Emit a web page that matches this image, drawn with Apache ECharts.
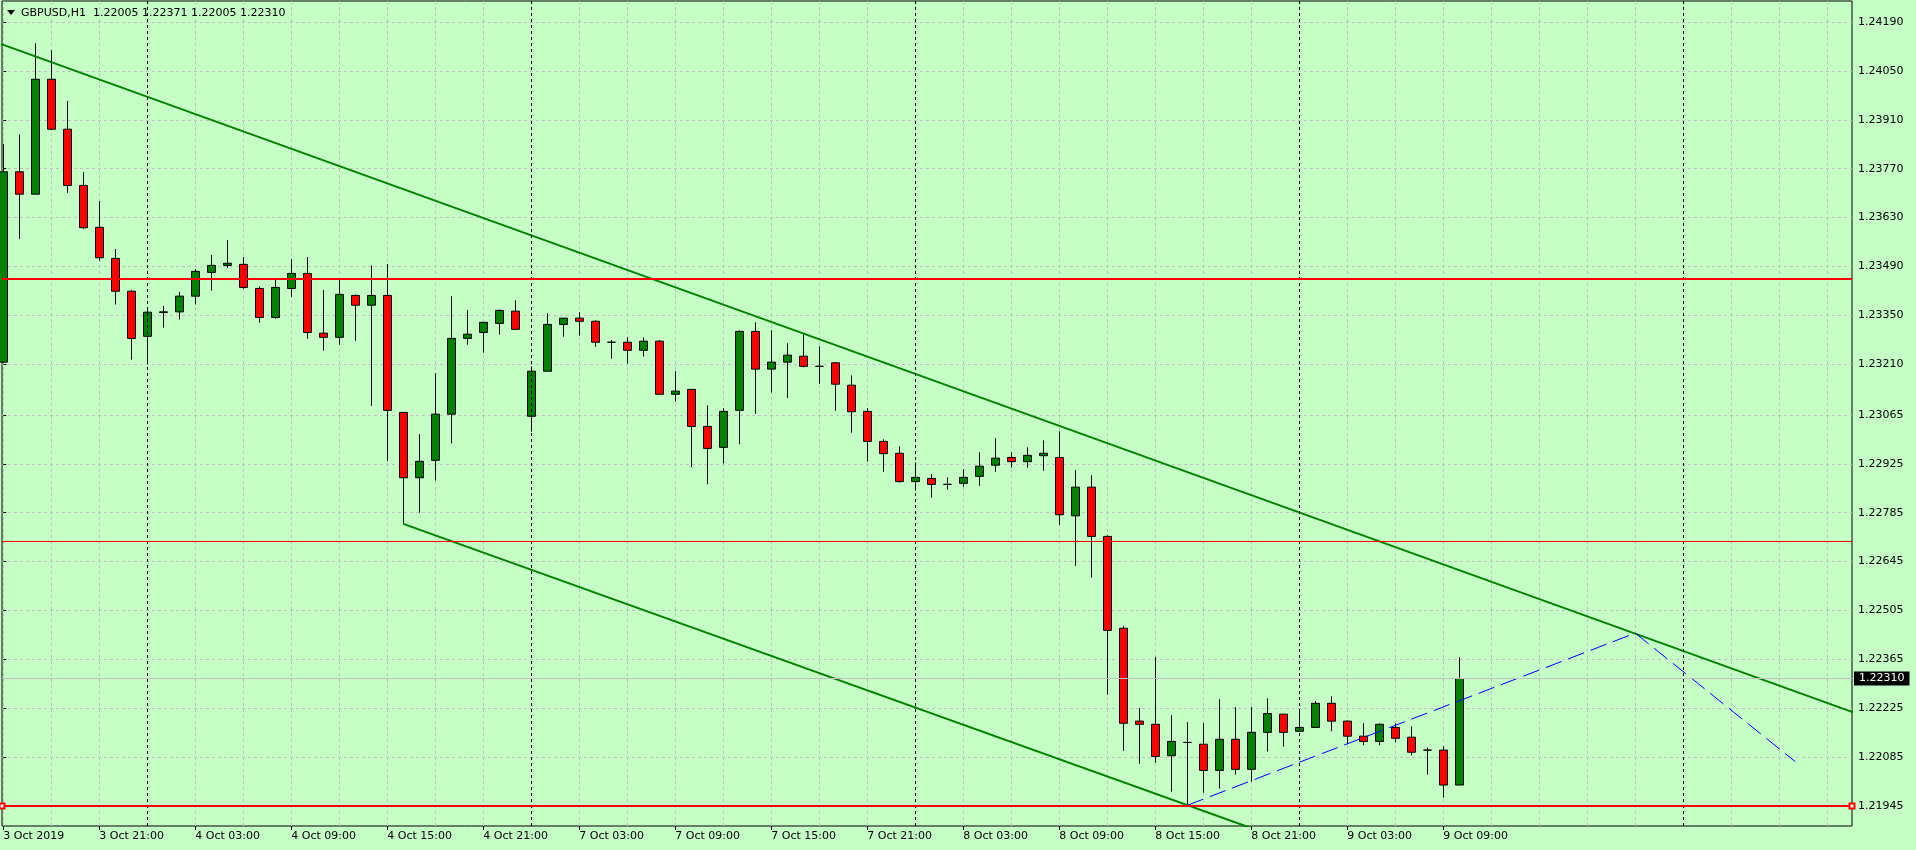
<!DOCTYPE html>
<html><head><meta charset="utf-8">
<script src="https://cdn.jsdelivr.net/npm/echarts@6/dist/echarts.min.js"></script>
<style>html,body{margin:0;padding:0;background:#C5FFC5;}#chart{width:1916px;height:850px;}</style>
</head><body><div id="chart"></div>
<script>
const symbolTitle = 'GBPUSD,H1';
const titleQuote = ['1.22005', '1.22371', '1.22005', '1.22310'];

const opens = [1.23216,1.23761,1.23697,1.24026,1.23883,1.23722,1.23602,1.23513,1.23419,1.23290,
1.23358,1.23360,1.23405,1.23473,1.23493,1.23496,1.23427,1.23344,1.23427,1.23470,
1.23299,1.23287,1.23407,1.23379,1.23407,1.23072,1.22885,1.22935,1.23067,1.23284,
1.23301,1.23327,1.23362,1.23061,1.23190,1.23324,1.23342,1.23333,1.23273,1.23273,
1.23250,1.23276,1.23124,1.23138,1.23032,1.22972,1.23078,1.23304,1.23196,1.23216,
1.23233,1.23204,1.23214,1.23150,1.23075,1.22989,1.22955,1.22874,1.22883,1.22866,
1.22869,1.22889,1.22921,1.22943,1.22931,1.22948,1.22943,1.22776,1.22858,1.22717,
1.22454,1.22188,1.22179,1.22089,1.22127,1.22122,1.22047,1.22136,1.22050,1.22156,
1.22208,1.22159,1.22170,1.22239,1.22188,1.22145,1.22130,1.22170,1.22142,1.22105,
1.22105,1.22005];
const closes = [1.23761,1.23697,1.24026,1.23883,1.23722,1.23601,1.23515,1.23419,1.23284,1.23359,
1.23360,1.23405,1.23476,1.23493,1.23499,1.23430,1.23344,1.23430,1.23470,1.23301,
1.23287,1.23410,1.23379,1.23407,1.23078,1.22885,1.22932,1.23067,1.23284,1.23296,
1.23330,1.23364,1.23310,1.23190,1.23324,1.23342,1.23333,1.23273,1.23273,1.23250,
1.23276,1.23124,1.23133,1.23032,1.22969,1.23075,1.23304,1.23196,1.23216,1.23236,
1.23204,1.23204,1.23153,1.23074,1.22989,1.22954,1.22874,1.22886,1.22866,1.22866,
1.22886,1.22918,1.22941,1.22931,1.22949,1.22955,1.22779,1.22858,1.22717,1.22448,
1.22182,1.22179,1.22087,1.22130,1.22127,1.22047,1.22136,1.22050,1.22156,1.22210,
1.22156,1.22170,1.22239,1.22188,1.22145,1.22130,1.22179,1.22139,1.22099,1.22105,
1.22005,1.22310];
const lows = [1.23214,1.23569,1.23697,1.23881,1.23701,1.23597,1.23507,1.23381,1.23223,1.23210,
1.23315,1.23338,1.23381,1.23421,1.23486,1.23426,1.23329,1.23340,1.23403,1.23283,
1.23249,1.23266,1.23277,1.23091,1.22933,1.22753,1.22785,1.22877,1.22983,1.23266,
1.23243,1.23295,1.23310,1.23017,1.23190,1.23289,1.23292,1.23260,1.23226,1.23212,
1.23232,1.23124,1.23103,1.22915,1.22866,1.22926,1.22981,1.23068,1.23129,1.23113,
1.23201,1.23154,1.23077,1.23014,1.22931,1.22902,1.22871,1.22848,1.22828,1.22851,
1.22859,1.22862,1.22902,1.22914,1.22914,1.22905,1.22750,1.22633,1.22599,1.22264,
1.22103,1.22066,1.22069,1.21986,1.21947,1.21983,1.21995,1.22035,1.22015,1.22101,
1.22115,1.22159,1.22170,1.22159,1.22122,1.22119,1.22119,1.22127,1.22090,1.22035,
1.21969,1.22005];
const highs = [1.23841,1.23868,1.24129,1.24109,1.23964,1.23760,1.23677,1.23540,1.23423,1.23373,
1.23377,1.23417,1.23482,1.23523,1.23566,1.23517,1.23433,1.23453,1.23511,1.23517,
1.23423,1.23453,1.23410,1.23493,1.23497,1.23072,1.23010,1.23184,1.23405,1.23365,
1.23330,1.23367,1.23393,1.23204,1.23356,1.23342,1.23359,1.23336,1.23279,1.23287,
1.23287,1.23279,1.23190,1.23138,1.23092,1.23084,1.23307,1.23330,1.23307,1.23270,
1.23296,1.23261,1.23216,1.23178,1.23084,1.22995,1.22975,1.22929,1.22895,1.22886,
1.22909,1.22958,1.22998,1.22958,1.22972,1.22992,1.23018,1.22907,1.22892,1.22720,
1.22460,1.22225,1.22372,1.22205,1.22185,1.22182,1.22251,1.22228,1.22228,1.22253,
1.22208,1.22219,1.22245,1.22259,1.22190,1.22182,1.22182,1.22182,1.22173,1.22113,
1.22116,1.22371];

const xLabelIndex = [0,6,12,18,24,30,36,42,48,54,60,66,72,78,84,90];
const xLabels = ['3 Oct 2019','3 Oct 21:00','4 Oct 03:00','4 Oct 09:00','4 Oct 15:00','4 Oct 21:00',
'7 Oct 03:00','7 Oct 09:00','7 Oct 15:00','7 Oct 21:00','8 Oct 03:00','8 Oct 09:00','8 Oct 15:00',
'8 Oct 21:00','9 Oct 03:00','9 Oct 09:00'];
const xGridIndex = [0,3,6,9,12,15,18,21,24,27,30,33,36,39,42,45,48,51,54,57,60,63,66,69,72,75,78,81,84,87,90,93,96,99,102,105,108,111,114];
const daySeparators = [9,33,57,81,105];
const yTickLabels = ['1.21945','1.22085','1.22225','1.22365','1.22505','1.22645','1.22785','1.22925',
'1.23065','1.23210','1.23350','1.23490','1.23630','1.23770','1.23910','1.24050','1.24190'];

const upperTrend = [[-0.5, 1.24133], [116, 1.22207]];
const lowerTrend = [[25, 1.22753], [82, 1.21816]];
const blueDashed = [[74, 1.21947], [102, 1.22440], [112, 1.22072]];
const resistanceLevel = 1.23455;
const thinLevel = 1.22703;
const supportLevel = 1.21945;
const bidLevel = 1.22310;

const yTickValues = yTickLabels.map(Number);
const candleData = opens.map((o, i) => [i, o, closes[i], lows[i], highs[i]]);
const FONT = 'DejaVu Sans';
const BG = '#C5FFC5';

const chart = echarts.init(document.getElementById('chart'), null, {renderer: 'canvas'});
chart.setOption({
  animation: false,
  backgroundColor: BG,
  textStyle: {fontFamily: FONT},
  title: {
    text: symbolTitle + '  ' + titleQuote.join(' '),
    left: 21, top: 6, padding: 0,
    textStyle: {fontFamily: FONT, fontSize: 11, fontWeight: 'normal', color: '#000', lineHeight: 14}
  },
  graphic: [{type: 'polygon', shape: {points: [[7, 10], [15, 10], [11, 15]]}, style: {fill: '#000'}, silent: true}],
  grid: {left: 2, right: 64, top: 1, bottom: 24, show: true, borderColor: '#000', borderWidth: 1, backgroundColor: 'transparent'},
  xAxis: [{
    type: 'value', min: -0.08125, max: 115.544,
    axisLine: {show: false},
    axisLabel: {show: false},
    axisTick: {show: false, customValues: xGridIndex},
    splitLine: {show: true, lineStyle: {color: '#C0C0C0', width: 1, type: [3, 3]}}
  }, {
    type: 'value', min: -0.08125, max: 115.544, position: 'bottom',
    axisLine: {show: false},
    axisTick: {show: true, length: 4, customValues: xLabelIndex, lineStyle: {color: '#000'}},
    axisLabel: {customValues: xLabelIndex, align: 'left', margin: 5, fontSize: 11, color: '#000', fontFamily: FONT,
      formatter: v => xLabels[xLabelIndex.indexOf(Math.round(v))] || ''},
    splitLine: {show: false}
  }],
  yAxis: {
    type: 'value', position: 'right', min: 1.2188773, max: 1.2425013, scale: true,
    axisLine: {show: false},
    axisTick: {show: true, length: 3, customValues: yTickValues, lineStyle: {color: '#000'}},
    axisLabel: {customValues: yTickValues, margin: 6, fontSize: 11, color: '#000', fontFamily: FONT,
      formatter: v => v.toFixed(5)},
    splitLine: {show: true, lineStyle: {color: '#C0C0C0', width: 1, type: [3, 3]}}
  },
  series: [
    {
      type: 'line', data: [], z: 1, silent: true,
      markLine: {silent: true, precision: 5, symbol: ['none', 'none'], label: {show: false},
        lineStyle: {color: '#000', width: 1, type: [3, 3]},
        data: daySeparators.map(v => ({xAxis: v}))}
    },
    {
      type: 'line', data: [], z: 1, silent: true,
      markLine: {silent: true, precision: 5, symbol: ['none', 'none'],
        lineStyle: {color: '#C0C0C0', width: 1, type: 'solid'},
        label: {show: true, position: 'end', distance: 2, formatter: () => bidLevel.toFixed(5),
          backgroundColor: '#000', color: '#fff', padding: [1, 5, 1, 5], fontSize: 11, fontFamily: FONT, lineHeight: 12},
        data: [{yAxis: bidLevel}]}
    },
    {
      type: 'candlestick', data: candleData, barWidth: 9, clip: true, z: 2,
      itemStyle: {color: '#008000', color0: '#FF0000', borderColor: '#000', borderColor0: '#000', borderColorDoji: '#000', borderWidth: 1}
    },
    {
      type: 'line', data: [], z: 3, silent: true,
      markLine: {silent: true, precision: 5, symbol: ['none', 'none'], label: {show: false},
        data: [
          {yAxis: resistanceLevel, lineStyle: {color: '#FF0000', width: 2, type: 'solid'}},
          {yAxis: thinLevel, lineStyle: {color: '#FF0000', width: 1, type: 'solid'}}
        ]}
    },
    {
      type: 'line', data: [], z: 3, silent: true,
      markLine: {silent: true, precision: 5, symbol: ['emptyRect', 'emptyRect'], symbolSize: 5, label: {show: false},
        lineStyle: {color: '#FF0000', width: 2, type: 'solid'},
        data: [{yAxis: supportLevel}]}
    },
    {type: 'line', data: upperTrend, z: 4, symbol: 'none', clip: true, silent: true,
      lineStyle: {color: '#008000', width: 2}},
    {type: 'line', data: lowerTrend, z: 4, symbol: 'none', clip: true, silent: true,
      lineStyle: {color: '#008000', width: 2}},
    {type: 'line', data: blueDashed, z: 4, symbol: 'none', clip: true, silent: true,
      lineStyle: {color: '#0000FF', width: 1, type: [17, 7]}}
  ]
});
</script></body></html>
